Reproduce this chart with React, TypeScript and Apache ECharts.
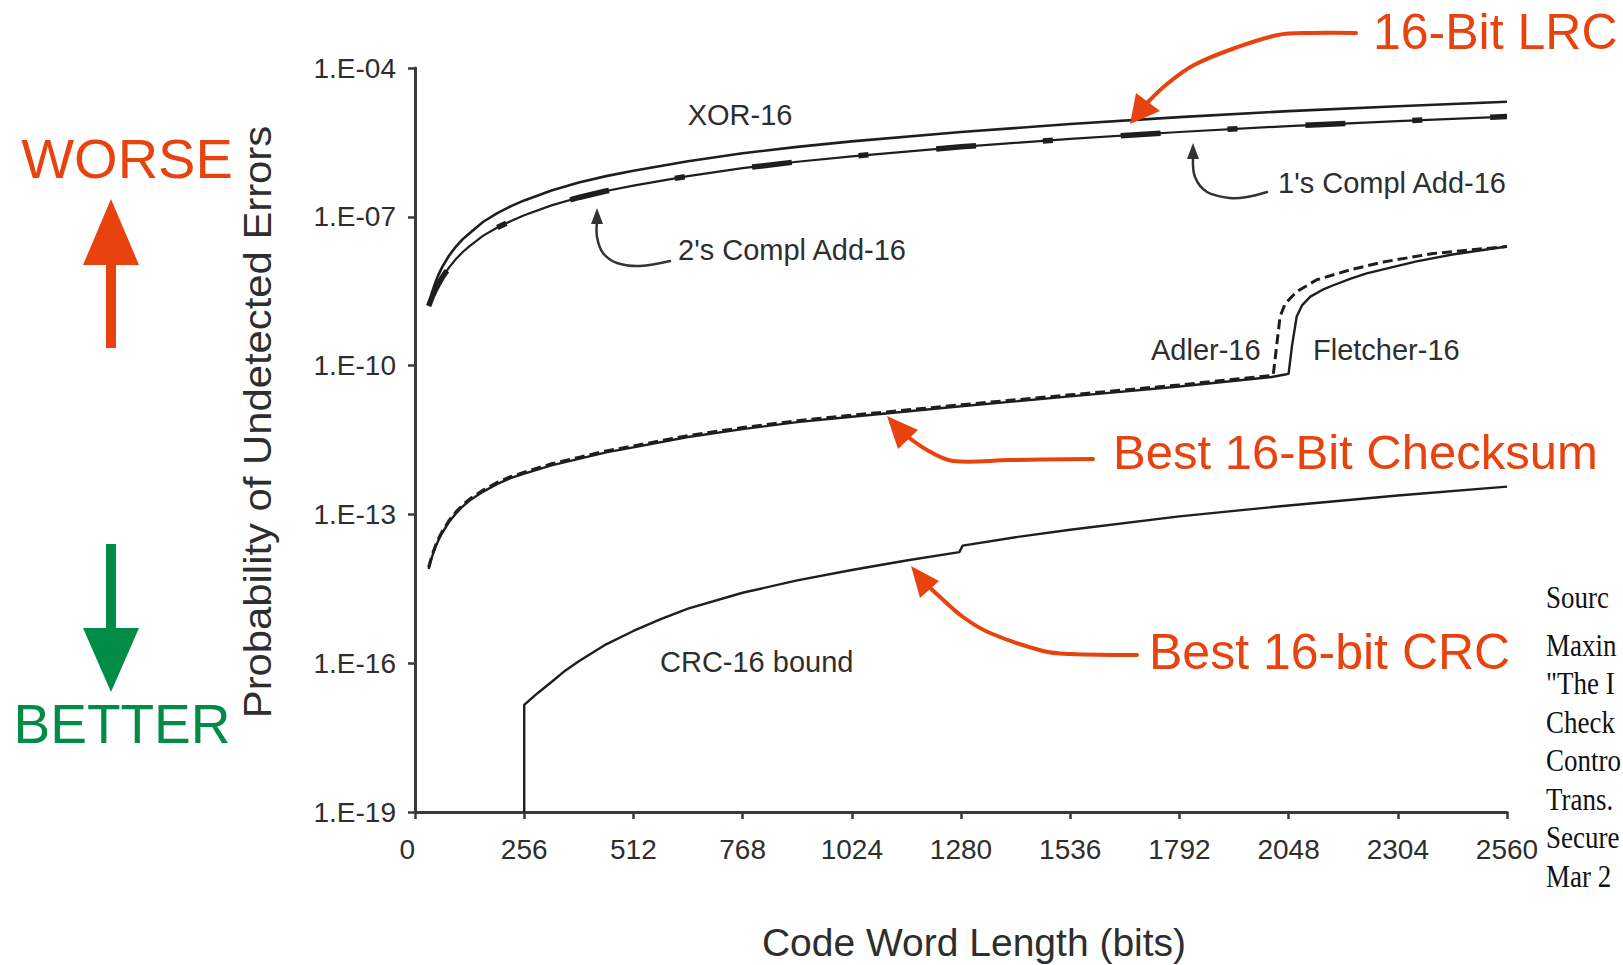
import React, { useEffect, useRef } from "react";
import * as echarts from "echarts";

// ---------- data (probabilities as log10 values) ----------
const bitsMain = [32, 40, 48, 56, 64, 80, 96, 112, 128, 160, 192, 224, 256, 320, 384, 448, 512, 640, 768, 896, 1024, 1280, 1536, 1792, 2048, 2304, 2560];
const xorLog10 = [-8.78, -8.52, -8.32, -8.15, -8.01, -7.78, -7.6, -7.45, -7.33, -7.1, -6.93, -6.79, -6.67, -6.47, -6.31, -6.18, -6.07, -5.88, -5.72, -5.59, -5.48, -5.29, -5.13, -4.99, -4.87, -4.77, -4.68];
const twosComplLog10 = [-8.8, -8.62, -8.47, -8.34, -8.22, -8.02, -7.85, -7.71, -7.59, -7.38, -7.22, -7.09, -6.97, -6.77, -6.61, -6.48, -6.37, -6.18, -6.02, -5.89, -5.78, -5.59, -5.43, -5.29, -5.17, -5.07, -4.98];
const onesComplLog10 = [-8.8, -8.62, -8.47, -8.34, -8.22, -8.02, -7.85, -7.71, -7.59, -7.38, -7.22, -7.09, -6.97, -6.77, -6.61, -6.48, -6.37, -6.18, -6.02, -5.89, -5.78, -5.59, -5.43, -5.29, -5.17, -5.07, -4.98];

const fletcherBits = [32, 40, 48, 56, 64, 80, 96, 112, 128, 160, 192, 224, 256, 320, 384, 448, 512, 640, 768, 896, 1024, 1280, 1536, 1792, 2008, 2040, 2048, 2056, 2067, 2080, 2099, 2128, 2153, 2192, 2231, 2304, 2348, 2432, 2560];
const fletcherLog10 = [-14.1, -13.85, -13.66, -13.5, -13.37, -13.15, -12.98, -12.84, -12.72, -12.54, -12.39, -12.27, -12.18, -12.01, -11.88, -11.75, -11.65, -11.44, -11.28, -11.14, -11.03, -10.82, -10.62, -10.42, -10.23, -10.18, -10.16, -9.6, -9.01, -8.78, -8.61, -8.47, -8.38, -8.25, -8.14, -7.99, -7.9, -7.76, -7.6];

const adlerBits = [32, 40, 48, 56, 64, 80, 96, 112, 128, 160, 192, 224, 256, 320, 384, 448, 512, 640, 768, 896, 1024, 1280, 1536, 1792, 2008, 2012, 2020, 2028, 2040, 2067, 2114, 2192, 2270, 2387, 2470, 2560];
const adlerLog10 = [-14.07, -13.82, -13.63, -13.47, -13.34, -13.12, -12.95, -12.81, -12.69, -12.51, -12.36, -12.24, -12.15, -11.98, -11.85, -11.72, -11.62, -11.41, -11.25, -11.11, -11.0, -10.79, -10.59, -10.39, -10.2, -10.19, -9.6, -9.01, -8.75, -8.51, -8.27, -8.07, -7.91, -7.74, -7.67, -7.6];

const crcBits = [256, 256, 288, 320, 352, 384, 448, 512, 576, 640, 768, 896, 1024, 1152, 1276, 1284, 1408, 1536, 1792, 2048, 2304, 2560];
const crcLog10 = [-19, -16.84, -16.6, -16.38, -16.15, -15.96, -15.62, -15.35, -15.11, -14.9, -14.58, -14.33, -14.12, -13.93, -13.76, -13.63, -13.46, -13.31, -13.04, -12.82, -12.62, -12.44];

const xTickLabels = ["0", "256", "512", "768", "1024", "1280", "1536", "1792", "2048", "2304", "2560"];
const yTickLabels = ["1.E-19", "1.E-16", "1.E-13", "1.E-10", "1.E-07", "1.E-04"];

// Source note, as much of it as the reference shows (it runs off the right edge there)
const sourceHead = "Sourc";
const sourceLines = ["Maxin", "\"The I", "Check", "Contro", "Trans.", "Secure", "Mar 2"];

// ---------- styling ----------
const SANS = "'Liberation Sans', Arial, Helvetica, sans-serif";
const SERIF = "'Liberation Serif', 'Times New Roman', serif";
const ORANGE = "#E8420E";
const GREEN = "#008C46";
const INK = "#1e1e1e";
const TEXT = "#2e2e2e";
const AXIS = "#3a3a3a";

const zip = (xs: number[], ys: number[]) => xs.map((x, i) => [x, ys[i]]);

function txt(text: string, x: number, y: number, size: number, color: string, align: string = "left", extra: any = {}, family: string = SANS) {
  return {
    type: "text",
    x,
    y,
    silent: true,
    z: 10,
    ...extra,
    style: {
      text,
      fill: color,
      fontSize: size,
      fontFamily: family,
      align,
      verticalAlign: "middle",
      textAlign: align,
      textVerticalAlign: "middle",
    },
  };
}

function pline(points: number[][], color: string, width: number, smooth = 0.35) {
  return {
    type: "polyline",
    silent: true,
    z: 10,
    shape: { points, smooth },
    style: { stroke: color, lineWidth: width, fill: "none", lineCap: "round", lineJoin: "round" },
  };
}

function pgon(points: number[][], color: string) {
  return { type: "polygon", silent: true, z: 11, shape: { points }, style: { fill: color } };
}

export default function App() {
  const ref = useRef<HTMLDivElement>(null);

  useEffect(() => {
    if (!ref.current) return;
    const chart = echarts.init(ref.current, null, { renderer: "svg" });

    const lineSeries = (name: string, data: number[][], lineStyle: any, z = 3) => ({
      name,
      type: "line",
      data,
      symbol: "none",
      showSymbol: false,
      silent: true,
      z,
      lineStyle: { color: INK, join: "round", ...lineStyle },
      emphasis: { disabled: true },
    });

    const graphic: any[] = [
      // Axis titles
      txt("Probability of Undetected Errors", 258, 422, 38, TEXT, "center", { rotation: Math.PI / 2, scaleX: 1.1 }),
      txt("Code Word Length (bits)", 974, 942, 39, TEXT, "center"),
      // WORSE / BETTER
      txt("WORSE", 127, 158, 56, ORANGE, "center"),
      { type: "rect", silent: true, shape: { x: 106, y: 255, width: 10, height: 93 }, style: { fill: ORANGE } },
      pgon([[111, 199], [83, 265], [139, 265]], ORANGE),
      { type: "rect", silent: true, shape: { x: 106, y: 544, width: 10, height: 90 }, style: { fill: GREEN } },
      pgon([[83, 628], [139, 628], [111, 692]], GREEN),
      txt("BETTER", 122, 724, 55, GREEN, "center"),
      // In-chart labels
      txt("XOR-16", 740, 115, 29, TEXT, "center"),
      txt("2's Compl Add-16", 678, 250, 29, TEXT, "left"),
      txt("1's Compl Add-16", 1278, 183, 29, TEXT, "left"),
      txt("Adler-16", 1151, 350, 29, TEXT, "left"),
      txt("Fletcher-16", 1313, 350, 29, TEXT, "left"),
      txt("CRC-16 bound", 660, 662, 29, TEXT, "left"),
      // small black arrows
      pline([[670, 261], [640, 266], [617, 263], [603, 253], [597, 237], [597, 222]], "#333", 2.5),
      pgon([[597, 208], [591, 224], [603, 224]], "#333"),
      pline([[1267, 192], [1247, 197], [1230, 198], [1207, 192], [1195, 177], [1193, 158]], "#333", 2.5),
      pgon([[1193, 143], [1187, 159], [1199, 159]], "#333"),
      // Orange annotations
      txt("16-Bit LRC", 1373, 32, 50, ORANGE, "left"),
      pline([[1356, 33], [1310, 33], [1278, 35], [1235, 48], [1194, 65], [1167, 84], [1148, 102]], ORANGE, 4),
      pgon([[1130, 124], [1136, 93], [1160, 111]], ORANGE),
      txt("Best 16-Bit Checksum", 1113, 452, 49, ORANGE, "left"),
      pline([[1093, 459], [1010, 460], [953, 461], [927, 450], [903, 433]], ORANGE, 4),
      pgon([[887, 416], [918, 430], [898, 449]], ORANGE),
      txt("Best 16-bit CRC", 1149, 652, 50, ORANGE, "left"),
      pline([[1137, 655], [1070, 654], [1043, 651], [990, 633], [963, 617], [940, 597], [924, 582]], ORANGE, 4),
      pgon([[911, 566], [939, 581], [920, 598]], ORANGE),
      // Source note
      txt(sourceHead, 1546, 597, 31, "#111", "left", { scaleX: 0.87 }, SERIF),
      ...sourceLines.map((s, i) => txt(s, 1546, 645 + i * 38.5, 31, "#111", "left", { scaleX: 0.87 }, SERIF)),
    ];

    chart.setOption({
      animation: false,
      backgroundColor: "#ffffff",
      grid: { left: 415, top: 68, width: 1092, height: 744, containLabel: false, outerBoundsMode: "none" },
      xAxis: {
        type: "value",
        min: 0,
        max: 2560,
        interval: 256,
        axisLine: { show: true, lineStyle: { color: AXIS, width: 3 } },
        axisTick: { show: true, length: 7, lineStyle: { color: AXIS, width: 2.5 } },
        axisLabel: {
          show: true,
          fontSize: 28,
          fontFamily: SANS,
          color: TEXT,
          margin: 23,
          alignMinLabel: "right",
          formatter: (v: number) => xTickLabels[Math.round(v / 256)] ?? "",
        },
        splitLine: { show: false },
      },
      yAxis: {
        type: "value",
        min: -19,
        max: -4,
        interval: 3,
        axisLine: { show: true, lineStyle: { color: AXIS, width: 3 } },
        axisTick: { show: true, length: 7, lineStyle: { color: AXIS, width: 2.5 } },
        axisLabel: {
          show: true,
          fontSize: 28,
          fontFamily: SANS,
          color: TEXT,
          margin: 19,
          padding: [0, 0, 6, 0],
          formatter: (v: number) => yTickLabels[Math.round((v + 19) / 3)] ?? "",
        },
        splitLine: { show: false },
      },
      series: [
        lineSeries("XOR-16", zip(bitsMain, xorLog10), { width: 2.6 }),
        lineSeries("2's Compl Add-16", zip(bitsMain, twosComplLog10), { width: 2.2 }),
        lineSeries("1's Compl Add-16", zip(bitsMain, onesComplLog10), { width: 5.5, type: [40, 67, 10, 68] }, 4),
        lineSeries("Fletcher-16", zip(fletcherBits, fletcherLog10), { width: 2.4 }),
        lineSeries("Adler-16", zip(adlerBits, adlerLog10), { width: 3, type: [10, 5] }, 4),
        lineSeries("CRC-16 bound", zip(crcBits, crcLog10), { width: 2.4 }),
      ],
      graphic,
    });

    return () => chart.dispose();
  }, []);

  return (
    <div
      ref={ref}
      style={{ position: "absolute", left: 0, top: 0, width: 1623, height: 965, background: "#fff", overflow: "hidden" }}
    />
  );
}
